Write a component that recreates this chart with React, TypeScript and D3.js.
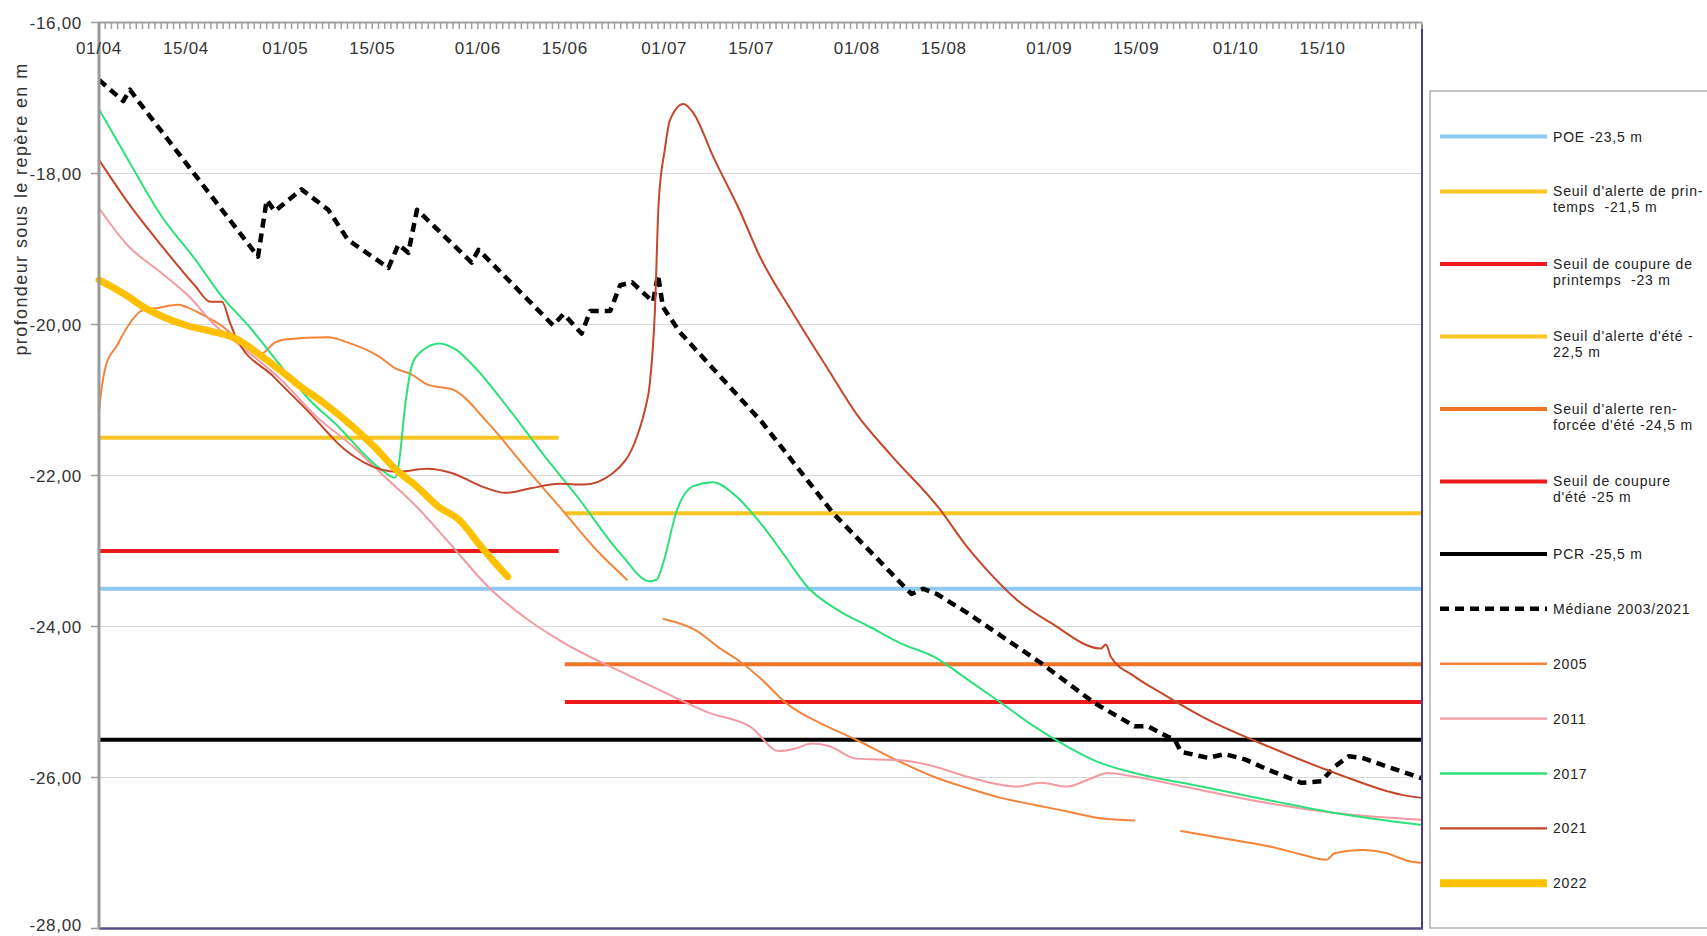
import React from 'react';
import * as d3 from 'd3';

// ---------- axis data ----------
const START_DATE = '01/04';
const END_DATE = '31/10';
const SPRING_END = '14/06';
const SUMMER_START = '15/06';
const X_TICK_LABELS = ['01/04', '15/04', '01/05', '15/05', '01/06', '15/06', '01/07', '15/07', '01/08', '15/08', '01/09', '15/09', '01/10', '15/10'];
const Y_TICKS = [-16, -18, -20, -22, -24, -26, -28];
const Y_TITLE = 'profondeur sous le repère en m';

// ---------- thresholds ----------
const THRESHOLD_LABELS = [
  ['POE -23,5 m'],
  ["Seuil d'alerte de prin-", 'temps  -21,5 m'],
  ['Seuil de coupure de', 'printemps  -23 m'],
  ["Seuil d'alerte d'été -", '22,5 m'],
  ["Seuil d'alerte ren-", "forcée d'été -24,5 m"],
  ['Seuil de coupure', "d'été -25 m"],
  ['PCR -25,5 m'],
];
const THRESHOLD_VALUES = [-23.5, -21.5, -23, -22.5, -24.5, -25, -25.5];
const THRESHOLD_FROM = [START_DATE, START_DATE, START_DATE, SUMMER_START, SUMMER_START, SUMMER_START, START_DATE];
const THRESHOLD_TO = [END_DATE, SPRING_END, SPRING_END, END_DATE, END_DATE, END_DATE, END_DATE];
const THRESHOLD_COLORS = ['#8ec9f0', '#f8c524', '#ec1a1a', '#f8c524', '#ef7425', '#ec1a1a', '#000000'];

// ---------- series: [days since 01/04, depth m] ----------
const MEDIANE: [number, number | null][] = [
  [0, -16.76], [3.9, -17.04], [5, -16.89], [6.3, -17.04], [25.6, -19.1], [27, -18.35], [28.3, -18.5],
  [32.6, -18.21], [36.9, -18.48], [40.1, -18.88], [46.6, -19.25], [48.2, -18.94], [49.8, -19.05],
  [51.2, -18.48], [60, -19.18], [61.1, -19.01], [73.1, -20.01], [74.8, -19.86], [77.7, -20.12],
  [79.1, -19.82], [82.3, -19.82], [83.9, -19.48], [85.8, -19.44], [89.2, -19.7], [90, -19.34],
  [90.8, -19.77], [93.5, -20.1], [106.7, -21.29], [118.2, -22.5], [130.8, -23.57], [132.7, -23.5],
  [134.9, -23.57], [139.8, -23.82], [151.6, -24.48], [160.2, -25.01], [166.7, -25.32], [168.8, -25.32],
  [172.1, -25.46], [173.2, -25.5], [174.2, -25.66], [178.6, -25.74], [181.2, -25.69], [184.5, -25.76],
  [188.3, -25.9], [193.6, -26.07], [196.8, -26.05], [199, -25.85], [201.2, -25.72], [203.4, -25.74],
  [207.2, -25.85], [213, -26.01],
];
const Y2005: [number, number | null][] = [
  [0, -21.15], [0.5, -20.8], [1.1, -20.55], [2.8, -20.29], [5, -19.98], [6.8, -19.82], [9.5, -19.78],
  [12.8, -19.74], [14.4, -19.78], [17.1, -19.89], [19.8, -20.02], [22.4, -20.2], [26.2, -20.38],
  [28.3, -20.24], [29.9, -20.2], [36.9, -20.17], [40.1, -20.24], [45, -20.42], [47.7, -20.58],
  [50.3, -20.66], [53, -20.8], [56.9, -20.86], [62.6, -21.3], [68.4, -21.87], [74.1, -22.41],
  [79.9, -22.97], [85, -23.38], [88, null],
  [90.9, -23.9], [96.3, -24.06], [99.8, -24.28], [103.3, -24.47], [106.8, -24.71], [110.4, -25.0],
  [117.4, -25.33], [121.9, -25.5], [127.9, -25.75], [134.4, -25.99], [139.8, -26.14], [145.2, -26.27],
  [150.5, -26.36], [155.9, -26.45], [161.3, -26.54], [166.7, -26.57], [170, null],
  [174.2, -26.71], [182.8, -26.83], [188.3, -26.91], [193.6, -27.02], [197.6, -27.09], [199, -27.0],
  [203.4, -26.96], [207.2, -27.0], [211, -27.11], [213, -27.13],
];
const Y2011: [number, number | null][] = [
  [0, -18.46], [4.7, -18.96], [10.1, -19.32], [14.4, -19.62], [18.3, -19.98], [23.5, -20.33],
  [29.3, -20.73], [35, -21.22], [40.8, -21.61], [45.4, -21.97], [51.1, -22.41], [56.9, -22.94],
  [62.6, -23.47], [68.4, -23.87], [74.1, -24.18], [85.6, -24.66], [90.7, -24.86], [98.1, -25.14],
  [104.9, -25.33], [109.5, -25.65], [112, -25.62], [114.7, -25.55], [117.4, -25.58], [121.9, -25.75],
  [129, -25.77], [134.4, -25.85], [139.8, -25.99], [147.8, -26.12], [151.6, -26.07], [155.9, -26.12],
  [159.2, -26.03], [162.4, -25.94], [166.7, -25.99], [177.5, -26.17], [188.3, -26.34], [199, -26.47],
  [213, -26.56],
];
const Y2017: [number, number | null][] = [
  [0, -17.15], [4.7, -17.82], [10.1, -18.57], [15.5, -19.14], [19.8, -19.63], [24.1, -20.02],
  [29.3, -20.55], [33.9, -21.0], [38.5, -21.35], [43.1, -21.75], [45.4, -21.92], [47.7, -22.03],
  [48.2, -21.88], [49.4, -21.0], [50.5, -20.51], [52.3, -20.33], [54.8, -20.25], [57.4, -20.33],
  [60.3, -20.55], [66.1, -21.13], [71.8, -21.75], [77, -22.28], [83.9, -23.03], [88.7, -23.4],
  [89.8, -23.38], [90.9, -23.14], [93, -22.47], [95.7, -22.14], [98.9, -22.09], [102.1, -22.24],
  [106.4, -22.62], [110.2, -23.04], [114, -23.47], [119.3, -23.8], [124, -24.0], [129, -24.22],
  [134.4, -24.4], [139.8, -24.7], [145.2, -25.01], [150.5, -25.32], [155.9, -25.59], [161.3, -25.81],
  [166.7, -25.94], [177.5, -26.12], [188.3, -26.3], [199, -26.47], [213, -26.63],
];
const Y2021: [number, number | null][] = [
  [0, -17.82], [4.7, -18.39], [10.1, -18.96], [15.5, -19.49], [17.9, -19.7], [19.8, -19.7],
  [21.1, -19.98], [22, -20.16], [28.1, -20.69], [33.9, -21.17], [39.6, -21.66], [45.4, -21.92],
  [48.2, -21.95], [52.8, -21.91], [56.9, -21.97], [61.5, -22.14], [65.5, -22.23], [69.5, -22.17],
  [74.1, -22.11], [78.1, -22.12], [82.7, -21.97], [86.8, -21.44], [87.9, -21.13], [88.7, -20.77],
  [89.5, -19.82], [90.1, -18.39], [91.1, -17.68], [91.9, -17.3], [94.1, -17.08], [95.7, -17.2],
  [98.9, -17.78], [103.2, -18.5], [106.4, -19.1], [111.8, -19.86], [117.2, -20.57], [122, -21.19],
  [127.4, -21.72], [135.4, -22.45], [139.8, -22.95], [143.5, -23.3], [147.8, -23.65], [153.2, -23.95],
  [161.3, -24.29], [162.1, -24.24], [162.9, -24.4], [166.7, -24.66], [171, -24.88], [177.5, -25.19],
  [188.3, -25.59], [199, -25.94], [209.8, -26.23], [213, -26.27],
];
const Y2022: [number, number | null][] = [
  [0, -19.41], [4.7, -19.63], [7.4, -19.78], [10.1, -19.89], [14.4, -20.02], [18.1, -20.09],
  [21.9, -20.18], [26.2, -20.42], [29.4, -20.62], [32.1, -20.8], [36.2, -21.04], [40.8, -21.35],
  [44.2, -21.61], [48.2, -21.95], [51.1, -22.14], [54.6, -22.41], [58, -22.59], [61.5, -22.94],
  [63.8, -23.16], [65.8, -23.34],
];

const SERIES_LABELS = ['Médiane 2003/2021', '2005', '2011', '2017', '2021', '2022'];
const SERIES_DATA = [MEDIANE, Y2005, Y2011, Y2017, Y2021, Y2022];
const SERIES_COLORS = ['#000000', '#f4843a', '#f29aa2', '#2ee07a', '#c4472b', '#ffc000'];
const SERIES_WIDTHS = [4.5, 2, 2, 2, 2, 7];

// ---------- helpers ----------
const dayOf = (s: string) => {
  const [d, m] = s.split('/').map(Number);
  return (Date.UTC(2022, m - 1, d) - Date.UTC(2022, 3, 1)) / 86400000;
};

const W = 1707;
const H = 936;
const M = { left: 99, right: 1422, top: 22.5, bottom: 928.5 };
const FONT = '"Liberation Sans", Arial, sans-serif';

export default function App() {
  const x = d3.scaleLinear().domain([dayOf(START_DATE), dayOf(END_DATE)]).range([M.left, M.right]);
  const y = d3.scaleLinear().domain([-28, -16]).range([M.bottom, M.top]);

  const mkLine = (curve: d3.CurveFactory) =>
    d3
      .line<[number, number | null]>()
      .defined((d) => d[1] !== null)
      .x((d) => x(d[0]))
      .y((d) => y(d[1] as number))
      .curve(curve);
  const linearLine = mkLine(d3.curveLinear);
  const smoothLine = mkLine(d3.curveMonotoneX);

  const dailyTicks = d3.range(dayOf(START_DATE), dayOf(END_DATE) + 1);

  const legendItems: { lines: string[]; color: string; width: number; dash?: string }[] = [
    ...THRESHOLD_LABELS.map((l, i) => ({ lines: l, color: THRESHOLD_COLORS[i], width: 4 })),
    ...SERIES_LABELS.map((l, i) => ({
      lines: [l],
      color: SERIES_COLORS[i],
      width: i === 0 ? 4.5 : i === 5 ? 8 : 2.4,
      dash: i === 0 ? '9 6' : undefined,
    })),
  ];
  let ly = 136.5;
  const legendYs: number[] = [];
  legendItems.forEach((it) => {
    legendYs.push(ly);
    ly += it.lines.length > 1 ? 72.5 : 54.9;
  });

  return (
    <svg
      width={W}
      height={H}
      style={{ position: 'absolute', left: 0, top: 0, background: '#fff', display: 'block' }}
      fontFamily={FONT}
    >
      <rect x={0} y={0} width={W} height={H} fill="#fff" />

      {/* gridlines */}
      {Y_TICKS.filter((t) => t !== -16 && t !== -28).map((t) => (
        <line key={'g' + t} x1={M.left} x2={M.right} y1={y(t)} y2={y(t)} stroke="#d9d9d9" strokeWidth={1} />
      ))}

      {/* thresholds */}
      {THRESHOLD_VALUES.map((v, i) => (
        <line
          key={'t' + i}
          x1={x(dayOf(THRESHOLD_FROM[i]))}
          x2={x(dayOf(THRESHOLD_TO[i]))}
          y1={y(v)}
          y2={y(v)}
          stroke={THRESHOLD_COLORS[i]}
          strokeWidth={4}
        />
      ))}

      {/* series */}
      {SERIES_DATA.map((data, i) => (
        <path
          key={'s' + i}
          d={(i === 0 ? linearLine : smoothLine)(data) || ''}
          fill="none"
          stroke={SERIES_COLORS[i]}
          strokeWidth={SERIES_WIDTHS[i]}
          strokeDasharray={i === 0 ? '9 6' : undefined}
          strokeLinejoin="round"
          strokeLinecap={i === 0 ? 'butt' : 'round'}
        />
      ))}

      {/* frame: bottom & right */}
      <line x1={M.left} x2={M.right + 1} y1={M.bottom} y2={M.bottom} stroke="#5a5088" strokeWidth={2.5} />
      <line x1={M.right} x2={M.right} y1={M.top + 2} y2={M.bottom} stroke="#4a3c82" strokeWidth={2} />

      {/* top axis with daily ticks */}
      {dailyTicks.map((d) => (
        <line key={'dt' + d} x1={x(d)} x2={x(d)} y1={M.top} y2={M.top + 6.5} stroke="#a0a0a0" strokeWidth={1.5} />
      ))}
      <line x1={M.left} x2={M.right} y1={M.top} y2={M.top} stroke="#a0a0a0" strokeWidth={2.2} />

      {/* left axis */}
      <line x1={M.left} x2={M.left} y1={M.top} y2={M.bottom} stroke="#9a9a9a" strokeWidth={3} />
      {Y_TICKS.map((t) => (
        <line key={'yt' + t} x1={M.left - 8} x2={M.left} y1={y(t)} y2={y(t)} stroke="#9a9a9a" strokeWidth={1.5} />
      ))}

      {/* y tick labels */}
      {Y_TICKS.map((t) => (
        <text
          key={'yl' + t}
          x={82}
          y={Math.min(y(t) + 6, 931)}
          textAnchor="end"
          fontSize={17}
          letterSpacing={0.7}
          fill="#333"
        >
          {d3.format('.2f')(t).replace('.', ',').replace('−', '-')}
        </text>
      ))}

      {/* x tick labels */}
      {X_TICK_LABELS.map((l) => (
        <text key={'xl' + l} x={x(dayOf(l))} y={54} textAnchor="middle" fontSize={17} letterSpacing={0.7} fill="#333">
          {l}
        </text>
      ))}

      {/* y title */}
      <text
        transform={`translate(27,209) rotate(-90)`}
        textAnchor="middle"
        fontSize={18}
        letterSpacing={1.4}
        fill="#333"
      >
        {Y_TITLE}
      </text>

      {/* legend */}
      <rect x={1430} y={91} width={320} height={837} fill="#fff" stroke="#b0b0b0" strokeWidth={1.5} />
      {legendItems.map((it, i) => (
        <g key={'lg' + i}>
          <line
            x1={1440}
            x2={1547}
            y1={legendYs[i]}
            y2={legendYs[i]}
            stroke={it.color}
            strokeWidth={it.width}
            strokeDasharray={it.dash}
          />
          {it.lines.map((s, j) => (
            <text
              key={j}
              x={1553}
              y={legendYs[i] + 5 + j * 16}
              fontSize={14}
              letterSpacing={0.8}
              fill="#222"
              style={{ whiteSpace: 'pre' }}
            >
              {s}
            </text>
          ))}
        </g>
      ))}
    </svg>
  );
}
